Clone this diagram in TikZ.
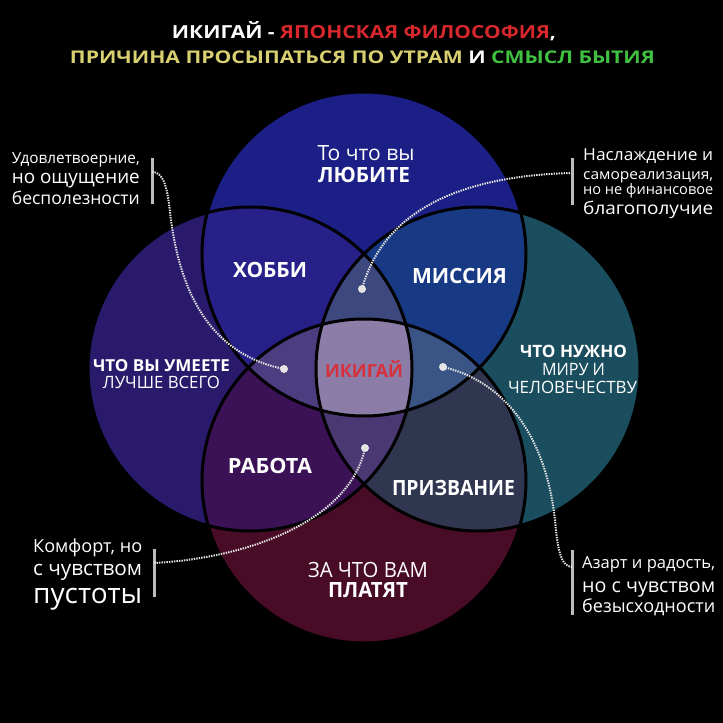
\documentclass[tikz,border=0pt]{standalone}
\usepackage{fontspec}
\usepackage{graphicx}
\setmainfont{Open Sans}
\definecolor{ctop}{HTML}{1B1F86}
\definecolor{cleft}{HTML}{2A1A6C}
\definecolor{cright}{HTML}{1A4E5E}
\definecolor{cbot}{HTML}{490C27}
\definecolor{cTL}{HTML}{272088}
\definecolor{cTR}{HTML}{183A84}
\definecolor{cBL}{HTML}{3A1255}
\definecolor{cBR}{HTML}{303550}
\definecolor{cTLR}{HTML}{3C487E}
\definecolor{cTLB}{HTML}{4C3C80}
\definecolor{cTRB}{HTML}{3A5585}
\definecolor{cLRB}{HTML}{4A3872}
\definecolor{ccen}{HTML}{8C7CA8}
\definecolor{tred}{HTML}{D8282E}
\definecolor{tyel}{HTML}{D8D070}
\definecolor{tgrn}{HTML}{40C040}
\definecolor{ikred}{HTML}{D8303A}
\definecolor{barc}{HTML}{BDBDBD}
\newcommand\fitw[2]{\resizebox{#1}{\height}{#2}}
\newcommand\fitall[2]{\resizebox{#1}{!}{#2}}
\newcommand\Ctop{(364,254) circle (162)}
\newcommand\Cbot{(364,481) circle (162)}
\newcommand\Cleft{(250,369) circle (162)}
\newcommand\Cright{(478,369) circle (162)}
\tikzset{
  lbl/.style={text=white, inner sep=0pt, anchor=base},
  ann/.style={text=white, inner sep=0pt},
  annbar/.style={draw=barc, line width=3pt},
  conn/.style={draw=white!80!gray, line width=2pt, dash pattern=on 1.4pt off 1.1pt},
  dotc/.style={circle, fill=white!80!gray, inner sep=0pt, minimum size=8pt},
  rim/.style={draw=black, line width=3pt}
}
\begin{document}
\begin{tikzpicture}[x=1pt,y=-1pt]
\useasboundingbox (0,0) rectangle (723,723);
\fill[black] (0,0) rectangle (723,723);
% circles
\fill[ctop] \Ctop;
\fill[cleft] \Cleft;
\fill[cright] \Cright;
\fill[cbot] \Cbot;
\begin{scope}\clip \Ctop; \fill[cTL] \Cleft; \fill[cTR] \Cright; \end{scope}
\begin{scope}\clip \Cbot; \fill[cBL] \Cleft; \fill[cBR] \Cright; \end{scope}
\begin{scope}\clip \Ctop; \clip \Cleft; \fill[cTLR] \Cright; \fill[cTLB] \Cbot; \end{scope}
\begin{scope}\clip \Ctop; \clip \Cright; \fill[cTRB] \Cbot; \end{scope}
\begin{scope}\clip \Cbot; \clip \Cleft; \fill[cLRB] \Cright; \end{scope}
\begin{scope}\clip \Ctop; \clip \Cleft; \clip \Cright; \fill[ccen] \Cbot; \end{scope}
\draw[rim] \Ctop; \draw[rim] \Cleft; \draw[rim] \Cright; \draw[rim] \Cbot;
% title
\node[lbl, font=\fontsize{18}{18}\selectfont\bfseries] (t1) at (364,38)
  {\fitw{384pt}{ИКИГАЙ - \textcolor{tred}{ЯПОНСКАЯ ФИЛОСОФИЯ},}};
\node[lbl, font=\fontsize{17.5}{17.5}\selectfont\bfseries] (t2) at (362.5,63)
  {\fitw{585pt}{\textcolor{tyel}{ПРИЧИНА ПРОСЫПАТЬСЯ ПО УТРАМ} И \textcolor{tgrn}{СМЫСЛ БЫТИЯ}}};
% circle labels
\node[lbl, font=\fontsize{21}{21}\selectfont] (l1) at (366,160) {\fitw{97pt}{То что вы}};
\node[lbl, font=\fontsize{21}{21}\selectfont\bfseries] (l2) at (364,182) {\fitw{92pt}{ЛЮБИТЕ}};
\node[lbl, font=\fontsize{21}{21}\selectfont\bfseries] (hob) at (270,277) {\fitw{74pt}{ХОББИ}};
\node[lbl, font=\fontsize{21}{21}\selectfont\bfseries] (mis) at (459.5,283) {\fitw{95pt}{МИССИЯ}};
\node[lbl, font=\fontsize{16.5}{16.5}\selectfont\bfseries] (u1) at (161.5,371) {\fitw{137pt}{ЧТО ВЫ УМЕЕТЕ}};
\node[lbl, font=\fontsize{17}{17}\selectfont] (u2) at (161.5,388.5) {\fitw{117pt}{ЛУЧШЕ ВСЕГО}};
\node[lbl, text=ikred, font=\fontsize{18}{18}\selectfont\bfseries] (iki) at (364,377) {\fitw{78pt}{ИКИГАЙ}};
\node[lbl, font=\fontsize{17}{17}\selectfont\bfseries] (n1) at (573.5,357) {\fitw{107pt}{ЧТО НУЖНО}};
\node[lbl, font=\fontsize{17}{17}\selectfont] (n2) at (573.5,375) {\fitw{63pt}{МИРУ И}};
\node[lbl, font=\fontsize{17}{17}\selectfont] (n3) at (572.5,393) {\fitw{129pt}{ЧЕЛОВЕЧЕСТВУ}};
\node[lbl, font=\fontsize{21}{21}\selectfont\bfseries] (rab) at (270,473) {\fitw{84pt}{РАБОТА}};
\node[lbl, font=\fontsize{21}{21}\selectfont\bfseries] (pri) at (453.5,495) {\fitw{123pt}{ПРИЗВАНИЕ}};
\node[lbl, font=\fontsize{21}{21}\selectfont] (z1) at (368,577) {\fitw{120pt}{ЗА ЧТО ВАМ}};
\node[lbl, font=\fontsize{21}{21}\selectfont\bfseries] (z2) at (368,597) {\fitw{80pt}{ПЛАТЯТ}};
% annotations top-left
\node[ann, anchor=base east] (a1) at (140,163) {\fitall{128pt}{Удовлетвоерние,}};
\node[ann, anchor=base east] (a2) at (140,183) {\fitall{128pt}{но ощущение}};
\node[ann, anchor=base east] (a3) at (140,204) {\fitall{128pt}{бесполезности}};
\coordinate (b1t) at (152,158); \coordinate (b1b) at (152,204);
\draw[annbar] (b1t) -- (b1b);
% annotations top-right
\node[ann, anchor=base west, font=\fontsize{16.5}{16.5}\selectfont] (c1) at (583,160) {\fitw{130pt}{Наслаждение и}};
\node[ann, anchor=base west, font=\fontsize{14.5}{14.5}\selectfont] (c2) at (583,179) {\fitw{130pt}{самореализация,}};
\node[ann, anchor=base west, font=\fontsize{14.5}{14.5}\selectfont] (c3) at (583,194) {\fitw{130pt}{но не финансовое}};
\node[ann, anchor=base west, font=\fontsize{17.5}{17.5}\selectfont] (c4) at (583,214) {\fitw{130pt}{благополучие}};
\coordinate (b2t) at (572,158); \coordinate (b2b) at (572,205);
\draw[annbar] (b2t) -- (b2b);
% annotations bottom-left
\node[ann, anchor=base west] (d1) at (33,552) {\fitall{109pt}{Комфорт, но}};
\node[ann, anchor=base west] (d2) at (33,575) {\fitall{109pt}{с чувством}};
\node[ann, anchor=base west] (d3) at (33,603) {\fitall{109pt}{пустоты}};
\coordinate (b3t) at (154,549); \coordinate (b3b) at (154,597);
\draw[annbar] (b3t) -- (b3b);
% annotations bottom-right
\node[ann, anchor=base west] (e1) at (582,568) {\fitall{133pt}{Азарт и радость,}};
\node[ann, anchor=base west] (e2) at (582,592) {\fitall{133pt}{но с чувством}};
\node[ann, anchor=base west] (e3) at (582,612) {\fitall{133pt}{безысходности}};
\coordinate (b4t) at (572,550); \coordinate (b4b) at (572,615);
\draw[annbar] (b4t) -- (b4b);
% connectors
\coordinate (s1) at (152,172);
\coordinate (s2) at (570,173);
\coordinate (s3) at (154,563);
\coordinate (s4) at (572,567);
\coordinate (m1) at (170,212);
\coordinate (m4) at (555,520);
\node[dotc] (p1) at (284,369) {};
\node[dotc] (p2) at (362,289) {};
\node[dotc] (p3) at (365,448) {};
\node[dotc] (p4) at (443,367) {};
\draw[conn] (s1) .. controls (163,172) and (167,185) .. (m1) .. controls (180,300) and (215,355) .. (p1.center);
\draw[conn] (s2) .. controls (470,176) and (385,205) .. (p2.center);
\draw[conn] (s3) .. controls (250,558) and (350,520) .. (p3.center);
\draw[conn] (p4.center) .. controls (500,380) and (545,430) .. (m4) .. controls (558,555) and (562,566) .. (s4);
\end{tikzpicture}
\end{document}
